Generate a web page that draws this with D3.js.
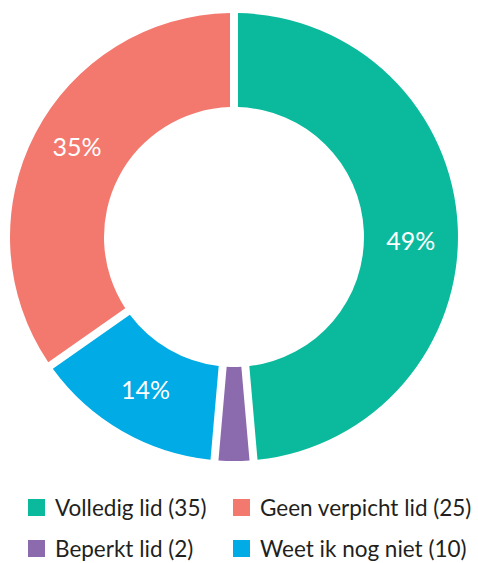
<!DOCTYPE html>
<html>
<head>
<meta charset="utf-8">
<script src="https://cdn.jsdelivr.net/npm/d3@7"></script>
<style>
  body { margin: 0; background: #fff; }
  svg { display: block; font-family: Lato, "Open Sans", sans-serif; }
</style>
</head>
<body>
<svg id="chart" width="478" height="563"></svg>
<script>
// slices, clockwise from 12 o'clock
const categories = ["Volledig lid", "Beperkt lid", "Weet ik nog niet", "Geen verpicht lid"];
const counts = [35, 2, 10, 25];
const colors = ["#0bba9d", "#8b6bae", "#00abe6", "#f3796e"];
// legend reads row by row, two per row
const legendOrder = ["Volledig lid", "Geen verpicht lid", "Beperkt lid", "Weet ik nog niet"];

let svg = d3.select("#chart");
let cx = 234, cy = 237;
let outerR = 224, innerR = 130;

let total = d3.sum(counts);
let data = categories.map((c, i) => ({ name: c, value: counts[i], color: colors[i] }));

let pie = d3.pie().sort(null).value(d => d.value);
let arc = d3.arc()
    .innerRadius(innerR)
    .outerRadius(outerR)
    .padAngle(8 / outerR)
    .padRadius(outerR);

let g = svg.append("g").attr("transform", `translate(${cx},${cy})`);

let arcs = pie(data);

g.selectAll("path.slice").data(arcs)
    .join("path")
    .attr("class", "slice")
    .attr("d", arc)
    .attr("fill", d => d.data.color);

// percent labels, small slices get none
// the original nudges a couple of labels off the centroid
const nudge = { "Volledig lid": 12, "Geen verpicht lid": -8 };
g.selectAll("text.pct").data(arcs.filter(d => d.data.value / total > 0.05))
    .join("text")
    .attr("class", "pct")
    .attr("x", d => arc.centroid(d)[0])
    .attr("y", d => arc.centroid(d)[1] + (nudge[d.data.name] || 0))
    .attr("dy", "0.35em")
    .attr("text-anchor", "middle")
    .attr("fill", "#fff")
    .style("font-size", "25px")
    .text(d => Math.round(d.data.value / total * 100) + "%");

// legend
let colX = d3.scalePoint().domain([0, 1]).range([28, 233]);
let rowY = d3.scalePoint().domain([0, 1]).range([508, 549]);

let legend = svg.selectAll("g.legend").data(legendOrder)
    .join("g")
    .attr("class", "legend")
    .attr("transform", (d, i) => `translate(${colX(i % 2)},${rowY(Math.floor(i / 2))})`);

legend.append("rect")
    .attr("x", 0)
    .attr("y", -9)
    .attr("width", 17)
    .attr("height", 17)
    .attr("fill", d => colors[categories.indexOf(d)]);

legend.append("text")
    .attr("x", 27)
    .attr("y", 0)
    .attr("dy", "0.35em")
    .attr("fill", "#231f20")
    .style("font-size", "22.5px")
    .text(d => `${d} (${counts[categories.indexOf(d)]})`);
</script>
</body>
</html>
